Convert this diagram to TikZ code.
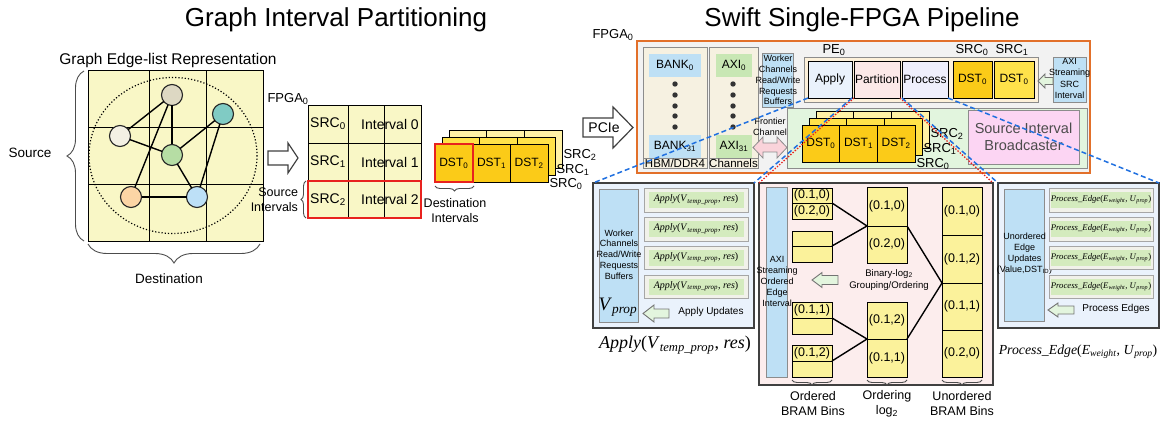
\documentclass[tikz,border=0pt]{standalone}
\usepackage{fontspec}
\setmainfont{Liberation Sans}
\newfontfamily\tmsfont{Liberation Serif}
\usetikzlibrary{decorations.pathreplacing}
\newcommand\sbs[1]{\textsubscript{#1}}
\newcommand\applyfn{{\tmsfont\textit{Apply}(\textit{V}\textsubscript{\textit{temp\_prop}}, \textit{res})}}
\newcommand\procfn{{\tmsfont\textit{Process\_Edge}(\textit{E}\textsubscript{\textit{weight}}, \textit{U}\textsubscript{\textit{prop}})}}
\definecolor{gy}{HTML}{F9F7C6}
\definecolor{gold}{HTML}{FBCB18}
\definecolor{ymid}{HTML}{FFE24A}
\definecolor{ylt}{HTML}{FFF2A6}
\definecolor{lblue}{HTML}{BEE0F5}
\definecolor{lgreen}{HTML}{C8E7B4}
\definecolor{fpgabg}{HTML}{F2F2F2}
\definecolor{forange}{HTML}{E2702A}
\definecolor{beige}{HTML}{F6F1E1}
\definecolor{pecream}{HTML}{FDF1DA}
\definecolor{applyb}{HTML}{EAF2FC}
\definecolor{partp}{HTML}{FCE9E8}
\definecolor{procl}{HTML}{EFEFFC}
\definecolor{greenreg}{HTML}{E2F5DE}
\definecolor{bcast}{HTML}{FCD5F3}
\definecolor{pinkarr}{HTML}{FAD3DA}
\definecolor{panelb}{HTML}{EAF2FC}
\definecolor{panelp}{HTML}{FCEDED}
\definecolor{binY}{HTML}{FBF29B}
\definecolor{fnouter}{HTML}{F1F1EA}
\definecolor{fninner}{HTML}{D4EBBE}
\definecolor{arrg}{HTML}{E3F5DE}
\definecolor{dblue}{HTML}{2070E0}
\definecolor{dred}{HTML}{E8221E}
\definecolor{bordg}{HTML}{8C8C8C}
\definecolor{ctan}{HTML}{DDD8C3}
\definecolor{cteal}{HTML}{80CBC4}
\definecolor{cwhite}{HTML}{F3F0E4}
\definecolor{cgreen}{HTML}{B6DDA4}
\definecolor{corange}{HTML}{FCD5A5}
\definecolor{cblue}{HTML}{BDE0F7}
\begin{document}
\begin{tikzpicture}[x=1pt,y=-1pt,
  every node/.style={inner sep=0pt, outer sep=0pt},
  bx/.style 2 args={minimum width=#1, minimum height=#2},
  f9/.style={font=\fontsize{9}{10.8}\selectfont},
  f9b/.style={font=\fontsize{9}{11.3}\selectfont},
  f96/.style={font=\fontsize{9.6}{12}\selectfont},
  f10/.style={font=\fontsize{10}{12}\selectfont},
  f11/.style={font=\fontsize{11.5}{13}\selectfont},
  f12/.style={font=\fontsize{12}{14}\selectfont},
  f125/.style={font=\fontsize{12.5}{15}\selectfont},
  f13/.style={font=\fontsize{13}{15}\selectfont},
  f135/.style={font=\fontsize{13.5}{16}\selectfont},
  f14/.style={font=\fontsize{14}{16}\selectfont},
  f145/.style={font=\fontsize{14.5}{17}\selectfont},
  f155/.style={font=\fontsize{15.5}{18}\selectfont},
  f26/.style={font=\fontsize{26}{30}\selectfont},
  cell/.style={draw=black, line width=0.8pt},
  gbox/.style={draw=bordg, line width=0.8pt},
  panel/.style={draw=black!75, line width=1.2pt},
  gnode/.style={circle, draw=black!85, line width=1.1pt, minimum size=21},
  gedge/.style={line width=1.4pt, black},
  harrow/.style={draw=black!75, line width=1.2pt, fill=white},
  garrow/.style={draw=black!55, line width=0.9pt, fill=arrg},
  bigbrace/.style={decorate, decoration={brace, amplitude=#1}, draw=black!70, line width=0.9pt},
  bluedash/.style={draw=dblue, line width=1.5pt, dash pattern=on 5pt off 3pt},
  reddot/.style={draw=dred, line width=1.3pt, dash pattern=on 1.4pt off 1.6pt},
]
\useasboundingbox (0,0) rectangle (1161,422);

% ---------- titles ----------
\node[f26, anchor=base] (t1) at (336,27) {Graph Interval Partitioning};
\node[f26, anchor=base] (t2) at (862,27) {Swift Single-FPGA Pipeline};

% ---------- graph edge list ----------
\node[f155] (gel) at (168,60) {Graph Edge-list Representation};
\node[draw=black, line width=1pt, fill=gy, bx={175}{170}] (grid) at (175.5,156) {};
\draw[line width=0.9pt] (149,71) -- (149,241) (206,71) -- (206,241)
      (88,127) -- (263,127) (88,184) -- (263,184);
\draw[dotted, line width=1.2pt] (173,155.5) ellipse [x radius=84, y radius=78];
\node[gnode, fill=ctan] (vtan) at (172,95) {};
\node[gnode, fill=cteal] (vteal) at (223,114) {};
\node[gnode, fill=cwhite] (vwhite) at (120,136) {};
\node[gnode, fill=cgreen] (vgreen) at (172,155) {};
\node[gnode, fill=corange] (vorange) at (131,197) {};
\node[gnode, fill=cblue] (vblue) at (197,197) {};
\draw[gedge] (vtan) -- (vwhite);
\draw[gedge] (vtan) -- (vgreen);
\draw[gedge] (vtan) -- (vorange);
\draw[gedge] (vwhite) -- (vgreen);
\draw[gedge] (vgreen) -- (vteal);
\draw[gedge] (vgreen) -- (vblue);
\draw[gedge] (vteal) -- (vblue);
\draw[gedge] (vorange) -- (vblue);
\node[f135] (srclbl) at (30,153) {Source};
\draw[bigbrace=17] (84,241) -- (84,71);
\draw[bigbrace=19] (260,244) -- (88,244);
\node[f135] (dstlbl) at (169,279) {Destination};

% ---------- interval table ----------
\node[f13] (fpgaA) at (288,99) {FPGA\sbs0};
\draw[harrow] (268,151) -- (288,151) -- (288,143) -- (298,158) -- (288,173) -- (288,165) -- (268,165) -- cycle;
\foreach \r/\y in {0/124,1/162,2/199.5} {
  \node[cell, bx={40}{38}, fill=gy, f14] (src\r) at (328,\y) {SRC\sbs{\r}};
  \node[cell, bx={36}{38}, fill=gy] (mid\r) at (366,\y) {};
  \node[cell, bx={37}{38}, fill=gy] (rgt\r) at (402.5,\y) {};
  \node[f14] (int\r) at (390,\y) {Interval \r};
}
\node[draw=dred, line width=1.8pt, bx={113}{37}] (redrow) at (364.5,199.5) {};
\node[f125, align=right, anchor=east] (srcint) at (298,199.5) {Source\\Intervals};
\draw[bigbrace=5] (306,218) -- (306,181);

% ---------- destination interval stack ----------
\foreach \i/\x in {0/453.8,1/491.5,2/529.2}
  \node[cell, fill=ylt, bx={37.7}{38}] (lt\i) at (\x+14,149) {};
\foreach \i/\x in {0/453.8,1/491.5,2/529.2}
  \node[cell, fill=ymid, bx={37.7}{38}] (lm\i) at (\x+7,156) {};
\foreach \i/\x in {0/453.8,1/491.5,2/529.2}
  \node[cell, fill=gold, bx={37.7}{38}, f12] (lf\i) at (\x,163) {DST\sbs{\i}};
\node[draw=dred, line width=1.8pt, bx={37.7}{38}] (lred) at (453.8,163) {};
\node[f13] (ls2) at (580,155) {SRC\sbs2};
\node[f13] (ls1) at (573,170) {SRC\sbs1};
\node[f13] (ls0) at (566,184) {SRC\sbs0};
\draw[bigbrace=5] (474,186) -- (435,186);
\node[f125, align=center] (dint) at (455,211) {Destination\\Intervals};

% ---------- FPGA ----------
\node[f13] (fpgaB) at (613,35) {FPGA\sbs0};
\draw[harrow] (583,118) -- (613,118) -- (613,107) -- (633,127.5) -- (613,148) -- (613,137) -- (583,137) -- cycle;
\node[f14] (pcie) at (604,127.5) {PCIe};
\node[draw=forange, line width=1.6pt, fill=fpgabg, bx={453}{132}] (fpga) at (863.5,107) {};

\node[gbox, fill=beige, bx={64}{121}] (hbm) at (675,107.5) {};
\node[gbox, bx={64}{10}, f11] (hbml) at (675,163) {HBM/DDR4};
\node[fill=lblue, bx={52}{23}, f12] (bank0) at (675,65.5) {BANK\sbs0};
\node[fill=lblue, bx={52}{23}, f12] (bank31) at (675,146.5) {BANK\sbs{31}};
\foreach \y in {84,95,106,116,127} \fill[black!80] (675,\y) circle (2.7);

\node[gbox, fill=beige, bx={49}{121}] (chan) at (733.5,107.5) {};
\node[gbox, bx={49}{10}, f11] (chanl) at (733.5,163) {Channels};
\node[fill=lgreen, bx={36}{23}, f12] (axi0) at (734,65.5) {AXI\sbs0};
\node[fill=lgreen, bx={36}{23}, f12] (axi31) at (734,146.5) {AXI\sbs{31}};
\foreach \y in {84,95,106,116,127} \fill[black!80] (733,\y) circle (2.7);

\node[gbox, fill=lblue, bx={31}{54}] (wbox) at (777.5,80) {};
\node[f9, align=center] (wtxt) at (778,80) {Worker\\Channels\\Read/Write\\Requests\\Buffers};
\node[f9, align=center] (fronttxt) at (770,127) {Frontier\\Channel};
\draw[draw=black!45, line width=0.8pt, fill=pinkarr] (753,147.5) -- (763,137) -- (763,143) -- (777,143) -- (777,137) -- (787,147.5) -- (777,158) -- (777,152) -- (763,152) -- (763,158) -- cycle;

\node[gbox, fill=pecream, bx={234}{45}] (pe) at (921,79.5) {};
\node[f13] (pelbl) at (834,50) {PE\sbs0};
\node[cell, fill=applyb, bx={44}{37}, f12] (apply) at (830,79.5) {Apply};
\node[cell, fill=partp, bx={46}{37}, f12] (part) at (877,79.5) {Partition};
\node[cell, fill=procl, bx={46}{37}, f12] (proc) at (925,79.5) {Process};
\node[cell, fill=gold, bx={39}{37}, f12] (pdst0) at (972.5,79.5) {DST\sbs0};
\node[cell, fill=ymid, bx={40}{37}, f12] (pdst1) at (1014,79.5) {DST\sbs0};
\node[f13] (psrc0) at (972,50) {SRC\sbs0};
\node[f13] (psrc1) at (1012,50) {SRC\sbs1};
\node[gbox, fill=lblue, bx={33}{45}] (axis) at (1069.5,79.5) {};
\node[f9b, align=center] (axistxt) at (1069.5,78.5) {AXI\\Streaming\\SRC\\Interval};
\draw[garrow] (1038,81) -- (1045,74) -- (1045,77.5) -- (1053,77.5) -- (1053,84.5) -- (1045,84.5) -- (1045,88) -- cycle;

\node[gbox, fill=greenreg, bx={300}{60}] (greg) at (937,138) {};
\node[gbox, fill=bcast, bx={111}{54}, f145, text=black!70, align=center] (bc) at (1023.5,137) {Source Interval\\Broadcaster};
\foreach \i/\x in {0/820.8,1/858.5,2/896.2}
  \node[cell, fill=ylt, bx={37.7}{37}] (ft\i) at (\x+14,129.5) {};
\foreach \i/\x in {0/820.8,1/858.5,2/896.2}
  \node[cell, fill=ymid, bx={37.7}{37}] (fm\i) at (\x+7,136.5) {};
\foreach \i/\x in {0/820.8,1/858.5,2/896.2}
  \node[cell, fill=gold, bx={37.7}{37}, f12] (ff\i) at (\x,143.5) {DST\sbs{\i}};
\node[f13] (fs2) at (947,134) {SRC\sbs2};
\node[f13] (fs1) at (940,149) {SRC\sbs1};
\node[f13] (fs0) at (933,164) {SRC\sbs0};

% ---------- left panel: Apply ----------
\node[panel, fill=panelb, bx={161}{145}] (lp) at (673.5,255.5) {};
\node[gbox, fill=lblue, bx={39}{133}] (lpt) at (618.5,255.5) {};
\node[f9, align=center] (lptxt) at (619,254.5) {Worker\\Channels\\Read/Write\\Requests\\Buffers};
\node[font=\fontsize{19}{20}\selectfont\tmsfont] (vprop) at (618,307) {\textit{V}\textsubscript{\textit{prop}}};
\foreach \i/\y in {1/200,2/229,3/257.5,4/286.5} {
  \node[draw=black!35, fill=fnouter, bx={104}{23.5}] (af\i) at (696,\y) {};
  \node[fill=fninner, bx={95}{16}, font=\fontsize{10}{12}\selectfont] (afi\i) at (696,\y) {\applyfn};
}
\draw[garrow] (643,313.5) -- (654,305) -- (654,309) -- (669,309) -- (669,318) -- (654,318) -- (654,322) -- cycle;
\node[f10] (applyupd) at (711,312) {Apply Updates};
\node[font=\fontsize{18}{20}\selectfont] (applybig) at (675,345) {\applyfn};

% ---------- middle panel: Partition ----------
\node[panel, fill=panelp, bx={234}{202}] (mp) at (876,284) {};
\node[gbox, fill=lblue, bx={21}{190}] (mpt) at (776.5,282) {};
\node[f9, align=center] (mptxt) at (777,281.5) {AXI\\Streaming\\Ordered\\Edge\\Interval};
\node[cell, fill=binY, bx={40}{15}, f125] (ob1a) at (812,195.5) {(0.1,0)};
\node[cell, fill=binY, bx={40}{16}, f125] (ob1b) at (812,211) {(0.2,0)};
\node[cell, fill=binY, bx={40}{15}] (ob2a) at (812,238.5) {};
\node[cell, fill=binY, bx={40}{16}] (ob2b) at (812,254) {};
\node[cell, fill=binY, bx={40}{16}, f125] (ob3a) at (812,310) {(0.1,1)};
\node[cell, fill=binY, bx={40}{16}] (ob3b) at (812,326) {};
\node[cell, fill=binY, bx={40}{16}, f125] (ob4a) at (812,353) {(0.1,2)};
\node[cell, fill=binY, bx={40}{16}] (ob4b) at (812,369) {};
\node[cell, fill=binY, bx={40}{39}, f125] (og1) at (887,206.5) {(0.1,0)};
\node[cell, fill=binY, bx={40}{37}, f125] (og2) at (887,244.5) {(0.2,0)};
\node[cell, fill=binY, bx={40}{37}, f125] (og3) at (887,320.5) {(0.1,2)};
\node[cell, fill=binY, bx={40}{38}, f125] (og4) at (887,358) {(0.1,1)};
\node[cell, fill=binY, bx={40}{48}, f125] (ub1) at (962,211) {(0.1,0)};
\node[cell, fill=binY, bx={40}{48}, f125] (ub2) at (962,259) {(0.1,2)};
\node[cell, fill=binY, bx={40}{47}, f125] (ub3) at (962,306.5) {(0.1,1)};
\node[cell, fill=binY, bx={40}{47}, f125] (ub4) at (962,353.5) {(0.2,0)};
\draw[gedge] (ob1a.south east) -- (og1.south west);
\draw[gedge] (ob2a.south east) -- (og1.south west);
\draw[gedge] (ob3a.south east) -- (og3.south west);
\draw[gedge] (ob4a.south east) -- (og3.south west);
\draw[gedge] (og1.south east) -- (ub2.south west);
\draw[gedge] (og3.south east) -- (ub2.south west);
\node[f96, align=center] (blog) at (889,280) {Binary-log\sbs2\\Grouping/Ordering};
\draw[garrow] (812,280) -- (822,272.5) -- (822,275.5) -- (838,275.5) -- (838,284.5) -- (822,284.5) -- (822,287.5) -- cycle;
\draw[bigbrace=5] (832,380) -- (792,380);
\draw[bigbrace=5] (907,380) -- (867,380);
\draw[bigbrace=5] (982,380) -- (942,380);
\node[f125, align=center] (lob) at (813,403.5) {Ordered\\BRAM Bins};
\node[f125, align=center] (log) at (887,403.5) {Ordering\\log\sbs2};
\node[f125, align=center] (lub) at (962,403.5) {Unordered\\BRAM Bins};

% ---------- right panel: Process ----------
\node[panel, fill=panelb, bx={161}{145}] (rp) at (1078.5,255.5) {};
\node[gbox, fill=lblue, bx={40}{132}] (rpt) at (1024,255) {};
\node[f9, align=center] (rptxt) at (1024.5,253.5) {Unordered\\Edge\\Updates\\(Value,DST\sbs{ID})};
\foreach \i/\y in {1/200,2/229,3/257.5,4/286.5} {
  \node[draw=black!35, fill=fnouter, bx={104}{23.5}] (pf\i) at (1101,\y) {};
  \node[fill=fninner, bx={95}{16}, font=\fontsize{8.7}{10}\selectfont] (pfi\i) at (1101,\y) {\procfn};
}
\draw[garrow] (1048,310) -- (1058,303) -- (1058,306) -- (1074,306) -- (1074,314) -- (1058,314) -- (1058,317) -- cycle;
\node[f10] (procupd) at (1116,309) {Process Edges};
\node[font=\fontsize{13.8}{16}\selectfont] (procbig) at (1078,352) {\procfn};

% ---------- zoom connectors ----------
\draw[bluedash] (apply.south west) -- (lp.north west);
\draw[bluedash] (apply.south east) -- (lp.north east);
\draw[reddot] (part.south west) -- (mp.north west);
\draw[reddot] (part.south east) -- (mp.north east);
\draw[bluedash] (proc.south west) -- (rp.north west);
\draw[bluedash] (proc.south east) -- (rp.north east);
\end{tikzpicture}
\end{document}
